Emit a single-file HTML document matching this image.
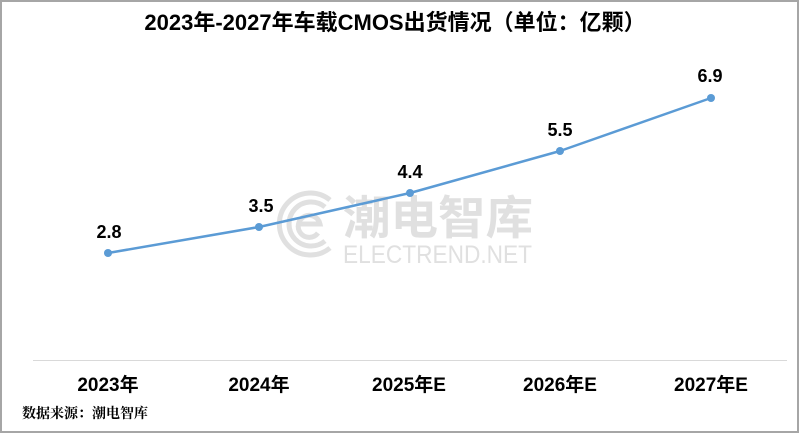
<!DOCTYPE html>
<html>
<head>
<meta charset="utf-8">
<style>
  html,body{margin:0;padding:0;background:#fff;}
  body{width:800px;height:434px;overflow:hidden;}
  svg{display:block;}
</style>
</head>
<body>
<svg width="800" height="434" viewBox="0 0 800 434" xmlns="http://www.w3.org/2000/svg">
  <rect x="0" y="0" width="800" height="434" fill="#fff"/>
  <!-- frame -->
  <rect x="1" y="1" width="797" height="431" fill="none" stroke="#a6a6a6" stroke-width="2"/>

  <!-- title -->
  <text x="395" y="30" text-anchor="middle" font-family="'Liberation Sans','Noto Sans CJK SC',sans-serif" font-weight="bold" font-size="22" fill="#000">2023年-2027年车载CMOS出货情况（单位：亿颗）</text>

  <!-- watermark -->
  <g fill="none" stroke="#e0e0e0" stroke-width="5" stroke-linecap="butt">
    <path d="M 330 200 A 31 31 0 1 0 330 248"/>
    <path d="M 325 207 A 22 22 0 1 0 325 241"/>
    <path d="M 300 224 L 320 224 A 11 11 0 1 0 318 233"/>
  </g>
  <text x="343" y="234" font-family="'Liberation Sans','Noto Sans CJK SC',sans-serif" font-weight="bold" font-size="46" fill="#e0e0e0" textLength="190" lengthAdjust="spacingAndGlyphs">潮电智库</text>
  <text x="343" y="263" font-family="'Liberation Sans',sans-serif" font-size="25" fill="#e0e0e0" textLength="189" lengthAdjust="spacingAndGlyphs">ELECTREND.NET</text>

  <!-- axis line -->
  <line x1="33" y1="360.5" x2="787" y2="360.5" stroke="#d9d9d9" stroke-width="1"/>

  <!-- series line -->
  <polyline points="108,253 259,227 410,193 560,151 711,98" fill="none" stroke="#5b9bd5" stroke-width="2.5" stroke-linejoin="round" stroke-linecap="round"/>
  <g fill="#5b9bd5">
    <circle cx="108" cy="253" r="4"/>
    <circle cx="259" cy="227" r="4"/>
    <circle cx="410" cy="193" r="4"/>
    <circle cx="560" cy="151" r="4"/>
    <circle cx="711" cy="98" r="4"/>
  </g>

  <!-- data labels -->
  <g font-family="'Liberation Sans',sans-serif" font-weight="bold" font-size="18" fill="#000" text-anchor="middle">
    <text x="109" y="238">2.8</text>
    <text x="261" y="212">3.5</text>
    <text x="410" y="178">4.4</text>
    <text x="560" y="136">5.5</text>
    <text x="710" y="82">6.9</text>
  </g>

  <!-- category labels -->
  <g font-family="'Liberation Sans','Noto Sans CJK SC',sans-serif" font-weight="bold" font-size="19" fill="#000" text-anchor="middle">
    <text x="108" y="391">2023年</text>
    <text x="259" y="391">2024年</text>
    <text x="409" y="391">2025年E</text>
    <text x="560" y="391">2026年E</text>
    <text x="711" y="391">2027年E</text>
  </g>

  <!-- source -->
  <text x="22" y="418" font-family="'Liberation Serif','Noto Serif CJK SC',serif" font-weight="bold" font-size="14" fill="#000">数据来源：潮电智库</text>
</svg>
</body>
</html>
